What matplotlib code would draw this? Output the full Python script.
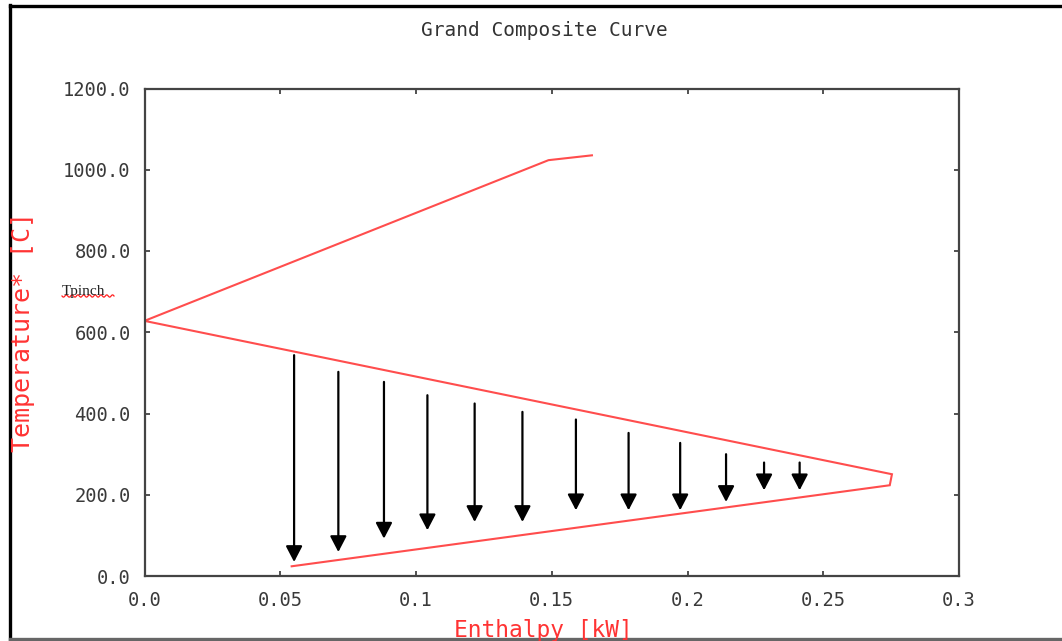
import numpy as np
import matplotlib
matplotlib.use("Agg")
import matplotlib.pyplot as plt
from matplotlib.lines import Line2D

# ---- data ----
gcc_H = [0.1648, 0.1488, 0.0, 0.2753, 0.2745, 0.0542]
gcc_T = [1035.5, 1023.6, 628.0, 250.5, 223.4, 23.9]

arrow_H = [0.0551, 0.0714, 0.0882, 0.1042, 0.1216, 0.1392,
           0.1589, 0.1783, 0.1973, 0.2142, 0.2282, 0.2413]
arrow_T_top = [543.6, 502.5, 477.8, 445.0, 424.6, 404.0,
               385.2, 352.2, 327.6, 299.8, 279.3, 279.3]
arrow_T_tip = [34.5, 59.0, 92.0, 112.6, 133.0, 133.0,
               161.8, 161.8, 161.8, 182.3, 211.0, 211.0]

x_ticks = [0.0, 0.05, 0.1, 0.15, 0.2, 0.25, 0.3]
x_ticklabels = ["0.0", "0.05", "0.1", "0.15", "0.2", "0.25", "0.3"]
y_ticks = [0, 200, 400, 600, 800, 1000, 1200]
y_ticklabels = ["0.0", "200.0", "400.0", "600.0", "800.0", "1000.0", "1200.0"]

title = "Grand Composite Curve"
xlabel = "Enthalpy [kW]"
ylabel = "Temperature* [C]"
pinch_label = "Tpinch"

# ---- figure ----
W, H = 1062, 641
fig = plt.figure(figsize=(W / 100, H / 100), dpi=100)
fig.patch.set_facecolor("white")

ax_l, ax_r, ax_t, ax_b = 144.5, 959.0, 88.5, 576.0
ax = fig.add_axes([ax_l / W, 1 - ax_b / H, (ax_r - ax_l) / W, (ax_b - ax_t) / H])

red = "#ff4d4d"
mono = "DejaVu Sans Mono"

ax.plot(gcc_H, gcc_T, color=red, lw=1.5, solid_joinstyle="miter")

for h, t0, t1 in zip(arrow_H, arrow_T_top, arrow_T_tip):
    ax.annotate("", xy=(h, t1), xytext=(h, t0),
                arrowprops=dict(arrowstyle="-|>,head_length=0.48,head_width=0.25",
                                color="black", lw=1.6, mutation_scale=20,
                                shrinkA=0, shrinkB=0))

ax.set_xlim(0, 0.3)
ax.set_ylim(0, 1200)
ax.set_xticks(x_ticks)
ax.set_xticklabels(x_ticklabels)
ax.set_yticks(y_ticks)
ax.set_yticklabels(y_ticklabels)
ax.tick_params(direction="in", length=3.5, width=1.2, color="#333333",
               top=True, right=True, labelsize=13.5, labelcolor="#3a3a3a")
ax.tick_params(axis="x", pad=11)
ax.tick_params(axis="y", pad=10)
for lab in ax.get_xticklabels() + ax.get_yticklabels():
    lab.set_fontfamily(mono)
for sp in ax.spines.values():
    sp.set_color("#444444")
    sp.set_linewidth(1.6)

# texts
fig.text(544 / W, 1 - 30 / H, title, ha="center", va="center",
         fontsize=14, family=mono, color="#333333")
fig.text(543 / W, 1 - 630 / H, xlabel, ha="center", va="center",
         fontsize=16.5, family=mono, color="#ff3333")
fig.text(23 / W, 1 - 332 / H, ylabel, ha="center", va="center", rotation=90,
         fontsize=18, family=mono, color="#ff3333")
fig.text(62 / W, 1 - 291 / H, pinch_label, ha="left", va="center",
         fontsize=11, family="Liberation Serif", color="#222222")
# wavy spell-check underline
wx = np.linspace(62, 114, 60)
wy = 296 + 1.2 * np.sin((wx - 62) / 52 * 2 * np.pi * 9)
fig.add_artist(Line2D(wx / W, 1 - wy / H, color="#ff2020", lw=0.9,
                      transform=fig.transFigure))

# outer frame
fig.add_artist(Line2D([9.5 / W, 9.5 / W], [0, 1 - 5 / H], color="black", lw=2.4,
                      transform=fig.transFigure))
fig.add_artist(Line2D([9.5 / W, 1], [1 - 6 / H, 1 - 6 / H], color="black", lw=2.4,
                      transform=fig.transFigure))
fig.add_artist(Line2D([9.5 / W, 1], [1 - 639 / H, 1 - 639 / H], color="#666666", lw=2.4,
                      transform=fig.transFigure))

fig.savefig("out.png", dpi=100, facecolor="white")
